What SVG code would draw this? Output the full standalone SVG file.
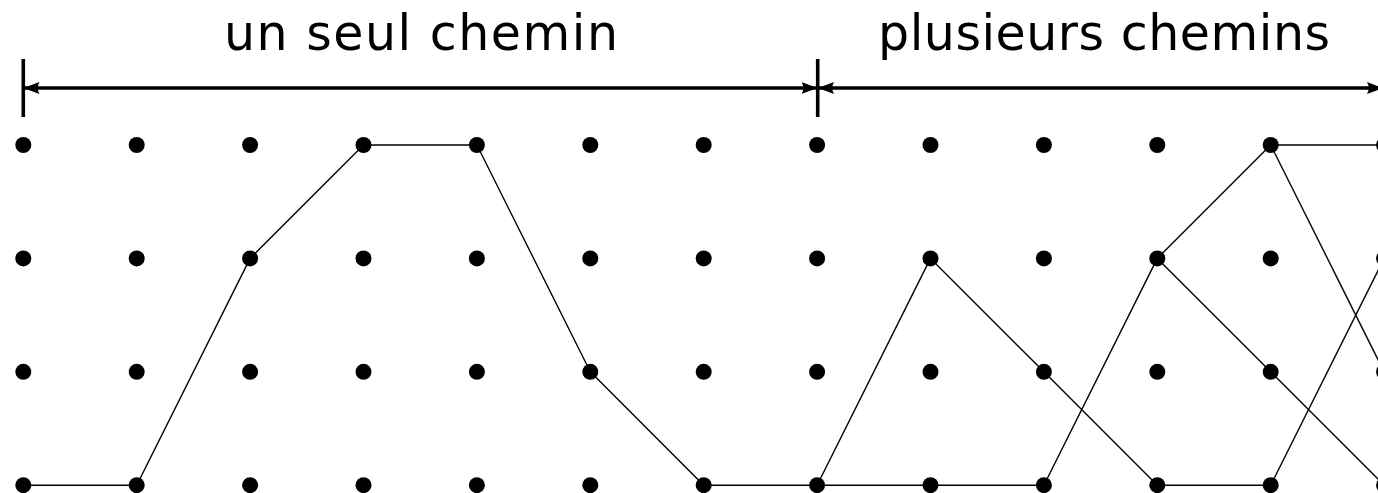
<svg xmlns="http://www.w3.org/2000/svg" width="1378" height="493" viewBox="0 0 1378 493">
<style>
.lbl{font-family:"DejaVu Sans","Liberation Sans",sans-serif;font-size:49px;fill:#000}
.dot{fill:#000}
.path{fill:none;stroke:#000;stroke-width:1.4;stroke-linejoin:round}
.bar{stroke:#000;stroke-width:3.6;fill:none}
</style>
<defs>
<marker id="ah" viewBox="0 0 16 13" refX="15" refY="6.5" markerWidth="16" markerHeight="13" markerUnits="userSpaceOnUse" orient="auto-start-reverse">
<path d="M0,0.5 L16,6.5 L0,12.5 Q3.5,6.5 0,0.5 Z" fill="#000"/>
</marker>
</defs>
<rect width="1378" height="493" fill="#fff"/>
<g id="labels">
<text class="lbl" x="421" y="50" text-anchor="middle" textLength="394" lengthAdjust="spacing">un seul chemin</text>
<text class="lbl" x="1104" y="50" text-anchor="middle" textLength="452" lengthAdjust="spacing">plusieurs chemins</text>
</g>
<g id="span-arrows">
<line class="bar" x1="23.3" y1="59" x2="23.3" y2="117"/>
<line class="bar" x1="817.7" y1="59" x2="817.7" y2="117"/>
<line class="bar" x1="24.5" y1="88" x2="816.5" y2="88" marker-start="url(#ah)" marker-end="url(#ah)"/>
<line class="bar" x1="819" y1="88" x2="1382" y2="88" marker-start="url(#ah)" marker-end="url(#ah)"/>
</g>
<g id="connectors">
<polyline id="path-single" class="path" points="23.3,485.2 136.7,485.2 250.1,258.4 363.5,145 476.9,145 590.3,371.8 703.7,485.2 817.1,485.2"/>
<polyline class="path" points="817.1,485.2 930.5,258.4 1043.9,371.8 1157.3,485.2 1270.7,485.2 1384.1,258.4"/>
<polyline class="path" points="817.1,485.2 930.5,485.2 1043.9,485.2 1157.3,258.4 1270.7,145 1384.1,145"/>
<polyline class="path" points="1157.3,258.4 1270.7,371.8 1384.1,485.2"/>
<polyline class="path" points="1270.7,145 1384.1,371.8"/>
</g>
<g id="grid">
<g id="row0">
<circle class="dot" cx="23.3" cy="145" r="8"/><circle class="dot" cx="136.7" cy="145" r="8"/><circle class="dot" cx="250.1" cy="145" r="8"/><circle class="dot" cx="363.5" cy="145" r="8"/><circle class="dot" cx="476.9" cy="145" r="8"/><circle class="dot" cx="590.3" cy="145" r="8"/><circle class="dot" cx="703.7" cy="145" r="8"/><circle class="dot" cx="817.1" cy="145" r="8"/><circle class="dot" cx="930.5" cy="145" r="8"/><circle class="dot" cx="1043.9" cy="145" r="8"/><circle class="dot" cx="1157.3" cy="145" r="8"/><circle class="dot" cx="1270.7" cy="145" r="8"/><circle class="dot" cx="1384.1" cy="145" r="8"/>
</g>
<g id="row1">
<circle class="dot" cx="23.3" cy="258.4" r="8"/><circle class="dot" cx="136.7" cy="258.4" r="8"/><circle class="dot" cx="250.1" cy="258.4" r="8"/><circle class="dot" cx="363.5" cy="258.4" r="8"/><circle class="dot" cx="476.9" cy="258.4" r="8"/><circle class="dot" cx="590.3" cy="258.4" r="8"/><circle class="dot" cx="703.7" cy="258.4" r="8"/><circle class="dot" cx="817.1" cy="258.4" r="8"/><circle class="dot" cx="930.5" cy="258.4" r="8"/><circle class="dot" cx="1043.9" cy="258.4" r="8"/><circle class="dot" cx="1157.3" cy="258.4" r="8"/><circle class="dot" cx="1270.7" cy="258.4" r="8"/><circle class="dot" cx="1384.1" cy="258.4" r="8"/>
</g>
<g id="row2">
<circle class="dot" cx="23.3" cy="371.8" r="8"/><circle class="dot" cx="136.7" cy="371.8" r="8"/><circle class="dot" cx="250.1" cy="371.8" r="8"/><circle class="dot" cx="363.5" cy="371.8" r="8"/><circle class="dot" cx="476.9" cy="371.8" r="8"/><circle class="dot" cx="590.3" cy="371.8" r="8"/><circle class="dot" cx="703.7" cy="371.8" r="8"/><circle class="dot" cx="817.1" cy="371.8" r="8"/><circle class="dot" cx="930.5" cy="371.8" r="8"/><circle class="dot" cx="1043.9" cy="371.8" r="8"/><circle class="dot" cx="1157.3" cy="371.8" r="8"/><circle class="dot" cx="1270.7" cy="371.8" r="8"/><circle class="dot" cx="1384.1" cy="371.8" r="8"/>
</g>
<g id="row3">
<circle class="dot" cx="23.3" cy="485.2" r="8"/><circle class="dot" cx="136.7" cy="485.2" r="8"/><circle class="dot" cx="250.1" cy="485.2" r="8"/><circle class="dot" cx="363.5" cy="485.2" r="8"/><circle class="dot" cx="476.9" cy="485.2" r="8"/><circle class="dot" cx="590.3" cy="485.2" r="8"/><circle class="dot" cx="703.7" cy="485.2" r="8"/><circle class="dot" cx="817.1" cy="485.2" r="8"/><circle class="dot" cx="930.5" cy="485.2" r="8"/><circle class="dot" cx="1043.9" cy="485.2" r="8"/><circle class="dot" cx="1157.3" cy="485.2" r="8"/><circle class="dot" cx="1270.7" cy="485.2" r="8"/><circle class="dot" cx="1384.1" cy="485.2" r="8"/>
</g>
</g>
</svg>
